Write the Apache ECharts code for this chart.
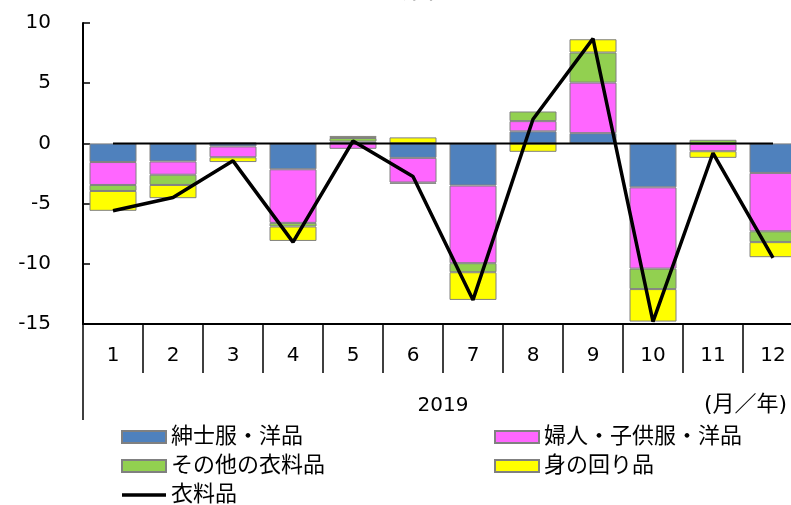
<!DOCTYPE html>
<html>
<head>
<meta charset="utf-8">
<script src="https://cdn.jsdelivr.net/npm/echarts@6/dist/echarts.min.js"></script>
<style>
  html, body { margin: 0; padding: 0; background: #fff; }
  #chart { width: 791px; height: 505px; }
</style>
</head>
<body>
<div id="chart"></div>
<script>
// months (2019)
const months = ['1', '2', '3', '4', '5', '6', '7', '8', '9', '10', '11', '12'];
const yearLabel = ['2019'];

// contributions, stacked bars
const mensWear = [-1.55, -1.5, -0.25, -2.15, 0.15, -1.2, -3.5, 1.0, 0.85, -3.65, -0.05, -2.45];
const womensKidsWear = [-1.9, -1.1, -0.9, -4.45, -0.45, -2.05, -6.45, 0.85, 4.2, -6.75, -0.6, -4.85];
const otherClothing = [-0.5, -0.85, 0.05, -0.3, 0.3, -0.1, -0.75, 0.8, 2.5, -1.7, 0.3, -0.9];
const accessories = [-1.65, -1.1, -0.4, -1.2, 0.17, 0.5, -2.3, -0.7, 1.1, -2.7, -0.55, -1.25];

// total clothing (line)
const clothingTotal = [-5.6, -4.5, -1.45, -8.2, 0.2, -2.75, -13.0, 2.0, 8.7, -14.8, -0.8, -9.5];
const zeroLine = [0, 0, 0, 0, 0, 0, 0, 0, 0, 0, 0, 0];

const FONT = '"DejaVu Sans", "Noto Sans CJK JP", sans-serif';
const chart = echarts.init(document.getElementById('chart'));

const barSeries = (name, data, color) => ({
    name,
    type: 'bar',
    stack: 'total',
    barWidth: 47,
    data,
    itemStyle: { color: color, borderColor: '#808080', borderWidth: 1 },
    emphasis: { disabled: true }
});

const legendBase = {
    orient: 'vertical',
    top: 426,
    height: 100,
    icon: 'rect',
    itemWidth: 44,
    itemHeight: 12,
    itemGap: 7,
    padding: 0,
    textStyle: { fontFamily: FONT, fontSize: 22, color: '#000', lineHeight: 22 }
};

chart.setOption({
    animation: false,
    title: {
        text: '衣料品',
        left: 372,
        top: -31,
        textStyle: { fontFamily: FONT, fontSize: 30, fontWeight: 'normal', color: '#000' }
    },
    grid: { left: 83, width: 720, top: 23, bottom: 181, outerBoundsMode: 'none', containLabel: false },
    legend: [
        Object.assign({}, legendBase, {
            left: 121,
            data: [
                '紳士服・洋品',
                'その他の衣料品',
                { name: '衣料品', icon: 'path://M0,0 H44 V3.5 H0 Z' }
            ]
        }),
        Object.assign({}, legendBase, {
            left: 494,
            data: ['婦人・子供服・洋品', '身の回り品']
        })
    ],
    xAxis: [
        {
            type: 'category',
            data: months,
            position: 'bottom',
            axisLine: { show: true, onZero: false, lineStyle: { color: '#000', width: 2 } },
            axisTick: { show: true, length: 49, lineStyle: { color: '#000', width: 1.5 } },
            axisLabel: { margin: 22, fontFamily: FONT, fontSize: 20, color: '#000' },
            splitLine: { show: false }
        },
        {
            type: 'category',
            data: yearLabel,
            position: 'bottom',
            axisLine: { show: false, onZero: false },
            axisTick: { show: true, length: 96, lineStyle: { color: '#000', width: 1.5 } },
            axisLabel: { margin: 72, fontFamily: FONT, fontSize: 20, color: '#000' },
            splitLine: { show: false }
        }
    ],
    yAxis: {
        type: 'value',
        min: -15,
        max: 10,
        interval: 5,
        axisLine: { show: true, lineStyle: { color: '#000', width: 2 } },
        axisTick: { show: true, inside: true, length: 7, lineStyle: { color: '#000', width: 1.5 } },
        axisLabel: { margin: 32, fontFamily: FONT, fontSize: 20, color: '#000' },
        splitLine: { show: false }
    },
    graphic: [
        {
            type: 'text',
            left: 704,
            top: 394,
            style: { text: '(月／年)', font: '22px ' + FONT, fill: '#000' }
        }
    ],
    series: [
        barSeries('紳士服・洋品', mensWear, '#4F81BD'),
        barSeries('婦人・子供服・洋品', womensKidsWear, '#FF66FF'),
        barSeries('その他の衣料品', otherClothing, '#92D050'),
        barSeries('身の回り品', accessories, '#FFFF00'),
        {
            name: 'zero',
            type: 'line',
            data: zeroLine,
            symbol: 'none',
            silent: true,
            lineStyle: { color: '#000', width: 2 },
            z: 3
        },
        {
            name: '衣料品',
            type: 'line',
            data: clothingTotal,
            symbol: 'none',
            lineStyle: { color: '#000', width: 3.5 },
            itemStyle: { color: '#000' },
            z: 4
        }
    ]
});
</script>
</body>
</html>
